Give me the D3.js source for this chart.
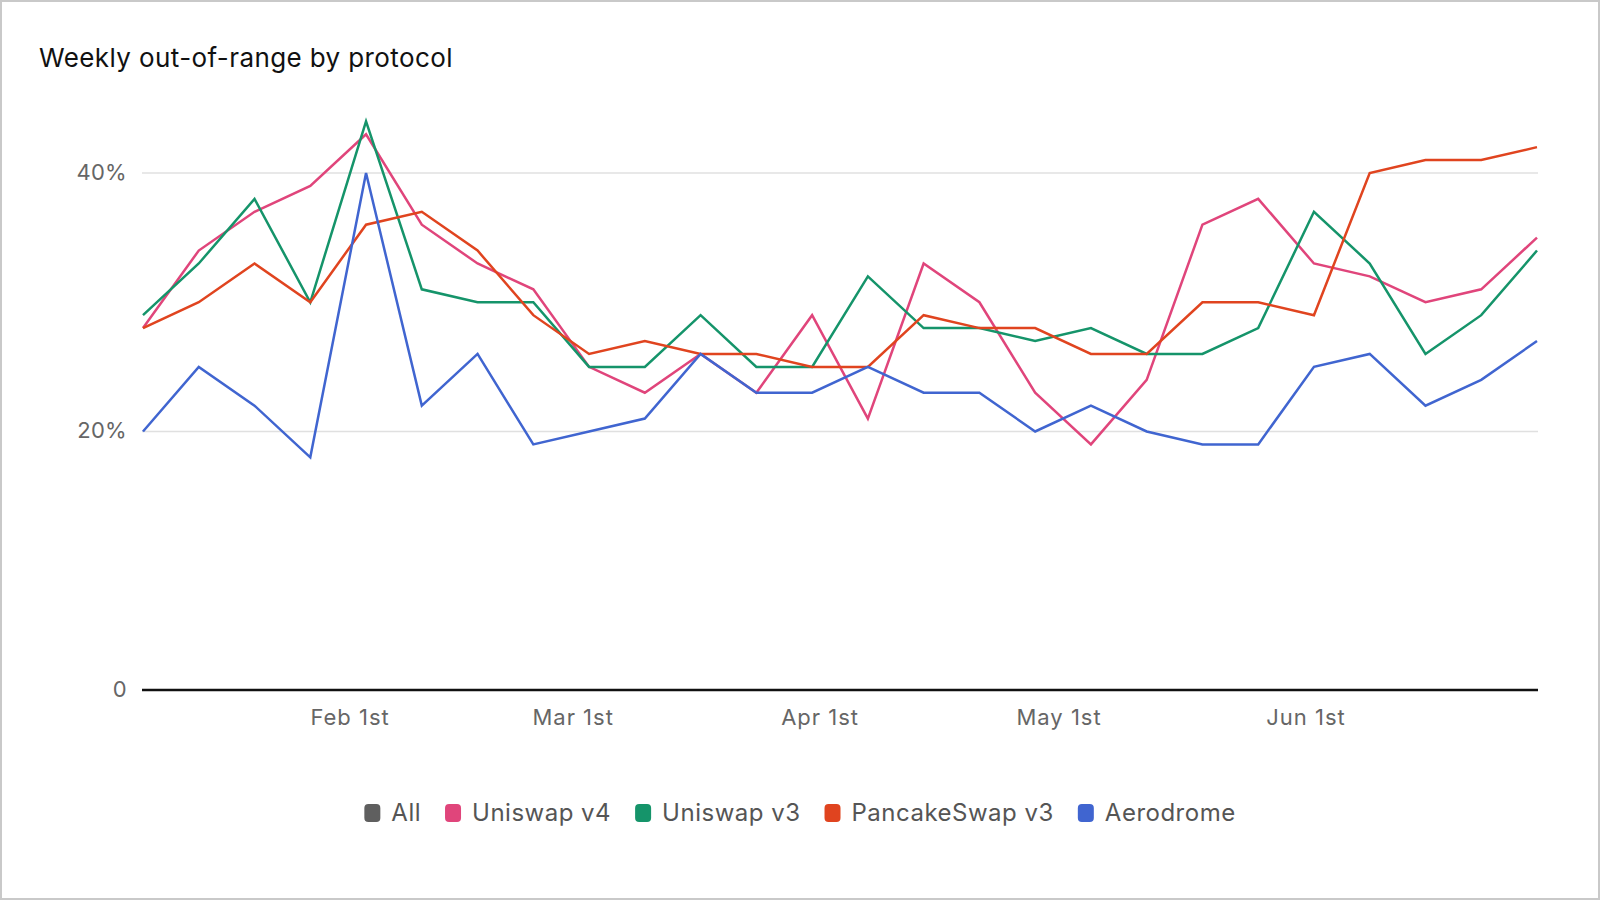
<!DOCTYPE html>
<html>
<head>
<meta charset="utf-8">
<script src="https://cdn.jsdelivr.net/npm/d3@7"></script>
<style>
    html, body { margin: 0; padding: 0; background: #fff; }
    #chart { width: 1600px; height: 900px; }
    text { font-family: Inter, "Noto Sans", sans-serif; }
</style>
</head>
<body>
<div id="chart"></div>
<script>
// weekly buckets (Mondays, 2025)
var weeks = ["2025-01-06", "2025-01-13", "2025-01-20", "2025-01-27", "2025-02-03", "2025-02-10",
    "2025-02-17", "2025-02-24", "2025-03-03", "2025-03-10", "2025-03-17", "2025-03-24",
    "2025-03-31", "2025-04-07", "2025-04-14", "2025-04-21", "2025-04-28", "2025-05-05",
    "2025-05-12", "2025-05-19", "2025-05-26", "2025-06-02", "2025-06-09", "2025-06-16",
    "2025-06-23", "2025-06-30"];

var uniswapV4 = [28, 34, 37, 39, 43, 36, 33, 31, 25, 23, 26, 23, 29, 21, 33, 30, 23, 19, 24, 36, 38, 33, 32, 30, 31, 35];
var uniswapV3 = [29, 33, 38, 30, 44, 31, 30, 30, 25, 25, 29, 25, 25, 32, 28, 28, 27, 28, 26, 26, 28, 37, 33, 26, 29, 34];
var pancakeV3 = [28, 30, 33, 30, 36, 37, 34, 29, 26, 27, 26, 26, 25, 25, 29, 28, 28, 26, 26, 30, 30, 29, 40, 41, 41, 42];
var aerodrome = [20, 25, 22, 18, 40, 22, 26, 19, 20, 21, 26, 23, 23, 25, 23, 23, 20, 22, 20, 19, 19, 25, 26, 22, 24, 27];

var legendNames = ["All", "Uniswap v4", "Uniswap v3", "PancakeSwap v3", "Aerodrome"];
var legendColors = ["#5f5f5f", "#e0457b", "#15946a", "#e0441f", "#4065d0"];

var yTicks = [0, 20, 40];
var xTickDates = ["2025-02-01", "2025-03-01", "2025-04-01", "2025-05-01", "2025-06-01"];
var xTickLabels = ["Feb 1st", "Mar 1st", "Apr 1st", "May 1st", "Jun 1st"];

var title = "Weekly out-of-range by protocol";

// "All" is toggled off in the legend, so no line for it
var series = [
    { name: "Uniswap v4", values: uniswapV4, color: legendColors[1] },
    { name: "Uniswap v3", values: uniswapV3, color: legendColors[2] },
    { name: "PancakeSwap v3", values: pancakeV3, color: legendColors[3] },
    { name: "Aerodrome", values: aerodrome, color: legendColors[4] }
];

function draw() {
    var w = 1600;
    var h = 900;
    var parse = d3.timeParse("%Y-%m-%d");

    var svg = d3.select("#chart")
        .append("svg")
        .attr("width", w)
        .attr("height", h);

    // frame
    svg.append("rect")
        .attr("x", 1)
        .attr("y", 1)
        .attr("width", w - 2)
        .attr("height", h - 2)
        .attr("fill", "#fff")
        .attr("stroke", "#c9c9c9")
        .attr("stroke-width", 2);

    svg.append("text")
        .attr("x", 39)
        .attr("y", 67)
        .attr("font-size", 26)
        .attr("letter-spacing", 0.4)
        .attr("fill", "#111")
        .text(title);

    var x = d3.scaleTime()
        .domain(d3.extent(weeks, function (d) { return parse(d); }))
        .range([143, 1537]);

    var y = d3.scaleLinear()
        .domain([0, 40])
        .range([690, 173]);

    // gridlines
    svg.selectAll(".grid")
        .data(yTicks.filter(function (d) { return d > 0; }))
        .enter()
        .append("line")
        .attr("class", "grid")
        .attr("x1", 142)
        .attr("x2", 1538)
        .attr("y1", function (d) { return y(d); })
        .attr("y2", function (d) { return y(d); })
        .attr("stroke", "#e0e0e0")
        .attr("stroke-width", 1.5);

    // y labels
    svg.selectAll(".ylab")
        .data(yTicks)
        .enter()
        .append("text")
        .attr("class", "ylab")
        .attr("x", 127)
        .attr("y", function (d) { return y(d) - 1; })
        .attr("dy", "0.35em")
        .attr("text-anchor", "end")
        .attr("font-size", 22)
        .attr("letter-spacing", 0.3)
        .attr("fill", "#666")
        .text(function (d) { return d === 0 ? "0" : d + "%"; });

    // x labels
    svg.selectAll(".xlab")
        .data(xTickDates)
        .enter()
        .append("text")
        .attr("class", "xlab")
        .attr("x", function (d) { return x(parse(d)); })
        .attr("y", 717)
        .attr("dy", "0.35em")
        .attr("text-anchor", "middle")
        .attr("font-size", 22)
        .attr("letter-spacing", 1)
        .attr("fill", "#666")
        .text(function (d, i) { return xTickLabels[i]; });

    var line = d3.line()
        .x(function (d, i) { return x(parse(weeks[i])); })
        .y(function (d) { return y(d); });

    svg.selectAll(".series")
        .data(series)
        .enter()
        .append("path")
        .attr("class", "series")
        .attr("d", function (d) { return line(d.values); })
        .attr("fill", "none")
        .attr("stroke", function (d) { return d.color; })
        .attr("stroke-width", 2.5)
        .attr("stroke-linejoin", "miter");

    // baseline
    svg.append("line")
        .attr("x1", 142)
        .attr("x2", 1538)
        .attr("y1", y(0))
        .attr("y2", y(0))
        .attr("stroke", "#111")
        .attr("stroke-width", 2.5);

    // legend, centred on the page
    var legend = svg.append("g");
    var lx = 0;
    legendNames.forEach(function (name, i) {
        var item = legend.append("g").attr("transform", "translate(" + lx + ",0)");
        item.append("rect")
            .attr("x", 0)
            .attr("y", -9)
            .attr("width", 16)
            .attr("height", 18)
            .attr("rx", 4)
            .attr("fill", legendColors[i]);
        var t = item.append("text")
            .attr("x", 27)
            .attr("y", 0)
            .attr("dy", "0.35em")
            .attr("font-size", 24)
            .attr("letter-spacing", 0.5)
            .attr("fill", "#555")
            .text(name);
        lx += 27 + t.node().getComputedTextLength() + 24;
    });
    var lw = lx - 24;
    legend.attr("transform", "translate(" + (w / 2 - lw / 2) + ",813)");
}

window.onload = draw;
</script>
</body>
</html>
